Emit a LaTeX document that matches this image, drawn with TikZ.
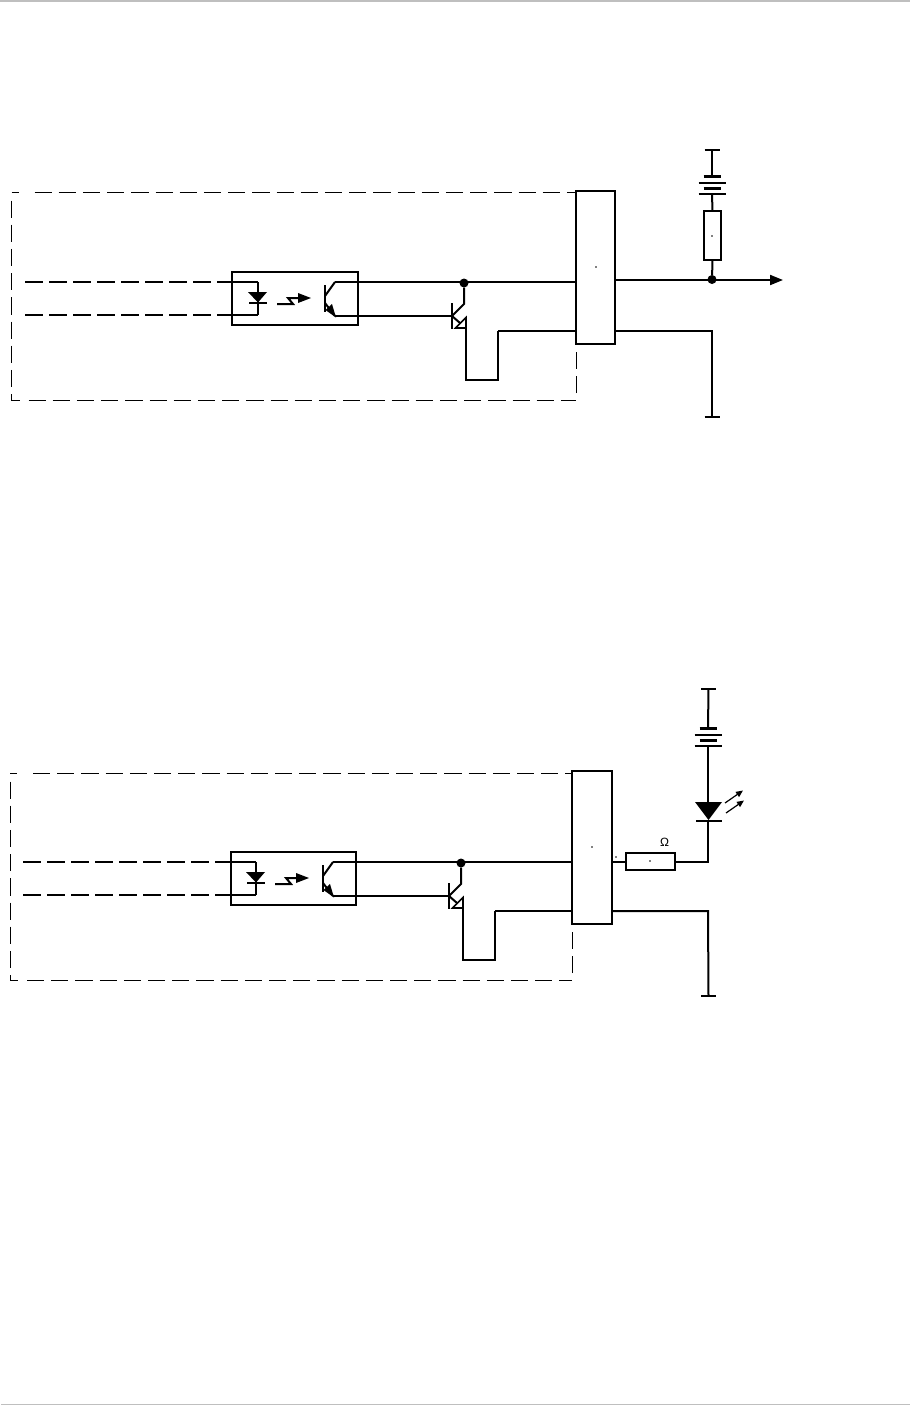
\documentclass[tikz,border=0pt]{standalone}
\usepackage{fontspec}
\setmainfont{Liberation Sans}
\usetikzlibrary{arrows.meta}
\definecolor{pagerule}{gray}{0.75}
\tikzset{
    wire/.style={line width=2pt},
    framedash/.style={line width=1pt, dash pattern=on 17.2pt off 7pt},
    leaddash/.style={line width=2pt, dash pattern=on 18pt off 6pt},
    blockbox/.style={draw, line width=2pt, inner sep=0pt, outer sep=0pt},
    junction/.style={circle, fill=black, inner sep=0pt, outer sep=0pt, minimum size=9pt},
    omegalabel/.style={inner sep=0pt, font=\fontsize{12}{12}\selectfont},
    outtip/.style={-{Triangle[length=13pt,width=10pt]}},
    lighttip/.style={-{Triangle[length=7pt,width=6pt]}}
}
\newcommand{\drawframe}[5]{\draw[framedash] (#1,#3) -- ++(7,0) (#1+23,#3) -- (#2,#3)
    (#1,#3+8.5) -- (#1,#4-5) -- (#1,#4) -- ++(8,0) (#1+17,#4) -- (#2,#4)
    (#2,#4-7) -- (#2,#5);}
\newcommand{\drawopto}[4]{
    \begin{scope}[shift={(#1,#2)}]
    \node[blockbox, minimum width=#4 pt, minimum height=53.5pt] (opto#3) at (358-#4/2,298.25) {};
    \coordinate (ledtop#3) at (258,282);
    \coordinate (ledbot#3) at (258,315);
    \coordinate (collect#3) at (335,282);
    \coordinate (emit#3) at (335,316);
    \draw[wire] (ledtop#3) -- (ledbot#3);
    \fill (248,292) -- (267,292) -- (258,302.5) -- cycle;
    \draw[wire] (249,303) -- (267,303);
    \draw[wire] (277,304) -- (293,304) -- (288,298) -- (299,298);
    \fill (298,293) -- (311,298) -- (298,303) -- cycle;
    \draw[wire] (325,285) -- (325,312);
    \draw[wire] (325,296) -- (collect#3);
    \draw[wire] (325,303) -- (emit#3);
    \fill (336,317.5) -- (325.5,310) -- (332,304) -- cycle;
    \end{scope}}
\newcommand{\drawdriver}[3]{
    \begin{scope}[shift={(#1,#2)}]
    \node[junction] (joint#3) at (464,283) {};
    \coordinate (base#3) at (452,316);
    \coordinate (drain#3) at (466,328);
    \coordinate (loop#3) at (498,380);
    \coordinate (back#3) at (498,331);
    \draw[wire] (452,303) -- (452,329);
    \draw[wire] (joint#3) -- (464,304) -- (base#3);
    \draw[wire] (base#3) -- (460,323);
    \draw[line width=1.6pt] (466,317.5) -- (drain#3) -- (455.5,328) -- cycle;
    \draw[wire] (drain#3) |- (loop#3) -- (back#3);
    \end{scope}}
\newcommand{\drawbattery}[3]{
    \coordinate (bat#3top) at (#1,#2);
    \coordinate (bat#3bot) at (#1,#2+18);
    \draw[line width=3pt] (#1-8.5,#2) -- (#1+8.5,#2);
    \draw[wire] (#1-13.5,#2+6.5) -- (#1+13.5,#2+6.5);
    \draw[line width=3pt] (#1-8.5,#2+12) -- (#1+8.5,#2+12);
    \draw[wire] (#1-13.5,#2+18) -- (#1+13.5,#2+18);}
\newcommand{\drawrail}[3]{
    \coordinate (#3) at (#1,#2);
    \draw[wire] (#1-7.5,#2) -- (#1+7.5,#2);}
\begin{document}
\begin{tikzpicture}[x=1pt,y=-1pt]
    \useasboundingbox (0,0) rectangle (910,1405);
    \fill[pagerule] (0,0) rectangle (910,2);
    \fill[pagerule] (1,1403.7) rectangle (910,1405);

    \drawframe{11.5}{576}{192}{400}{352}
    \drawopto{0}{0}{a}{126}
    \drawdriver{0}{0}{a}
    \node[blockbox, minimum width=39pt, minimum height=153pt] (unita) at (595.5,267.5) {};
    \node[blockbox, minimum width=17pt, minimum height=49pt] (resa) at (712.5,235.5) {};
    \node[junction] (nodea) at (712,279.5) {};
    \coordinate (ina) at (25,282);
    \coordinate (inb) at (25,315);
    \coordinate (outa) at (783,280);
    \coordinate (bend) at (712,331);
    \drawrail{712}{150}{supplya}
    \drawrail{712}{417}{grounda}
    \drawbattery{712}{176}{a}
    \draw[leaddash] (ina) -- (ina -| optoa.west);
    \draw[leaddash] (inb) -- (inb -| optoa.west);
    \draw[wire] (ina -| optoa.west) -- (ledtopa);
    \draw[wire] (inb -| optoa.west) -- (ledbota);
    \draw[wire] (collecta) -- (collecta -| unita.west);
    \draw[wire] (emita) -- (basea);
    \draw[wire] (backa) -- (backa -| unita.west);
    \draw[wire] (bend -| unita.east) -- (bend) -- (grounda);
    \draw[wire, outtip] (outa -| unita.east) -- (outa);
    \draw[wire] (supplya) -- (batatop);
    \draw[wire] (batabot) -- (resa.north);
    \draw[wire] (resa.south) -- (nodea);

    \drawframe{10}{572}{773}{980}{932}
    \drawopto{-2}{580}{b}{125}
    \drawdriver{-3}{580}{b}
    \node[blockbox, minimum width=40pt, minimum height=153pt] (unitb) at (592,847.5) {};
    \node[blockbox, minimum width=49.5pt, minimum height=17pt] (resb) at (650.5,861.5) {};
    \node[omegalabel] (ohm) at (664.5,842.5) {Ω};
    \coordinate (inc) at (23,862);
    \coordinate (ind) at (23,895);
    \coordinate (ledanode) at (708,802);
    \coordinate (ledcathode) at (708,821);
    \coordinate (corner) at (708,861.5);
    \coordinate (bendb) at (708,911);
    \drawrail{708.5}{689}{supplyb}
    \drawrail{708.5}{996}{groundb}
    \drawbattery{708}{728}{b}
    \fill (695,802) -- (722,802) -- (708.5,820) -- cycle;
    \draw[wire] (696,821) -- (722,821);
    \draw[line width=1.2pt, lighttip] (725,803) -- (743,790.5);
    \draw[line width=1.2pt, lighttip] (726,813) -- (744,800.5);
    \draw[leaddash] (inc) -- (inc -| optob.west);
    \draw[leaddash] (ind) -- (ind -| optob.west);
    \draw[wire] (inc -| optob.west) -- (ledtopb);
    \draw[wire] (ind -| optob.west) -- (ledbotb);
    \draw[wire] (collectb) -- (collectb -| unitb.west);
    \draw[wire] (emitb) -- (baseb);
    \draw[wire] (backb) -- (backb -| unitb.west);
    \draw[wire] (bendb -| unitb.east) -- (bendb) -- (groundb);
    \draw[wire] (corner -| unitb.east) -- (resb.west);
    \draw[wire] (resb.east) -- (corner) -- (ledcathode);
    \draw[wire] (supplyb) -- (batbtop);
    \draw[wire] (batbbot) -- (ledanode);

    \foreach \x/\y in {596/267, 712/236, 592/847, 650/861, 616/857} \fill (\x,\y) circle (0.8);
\end{tikzpicture}
\end{document}
